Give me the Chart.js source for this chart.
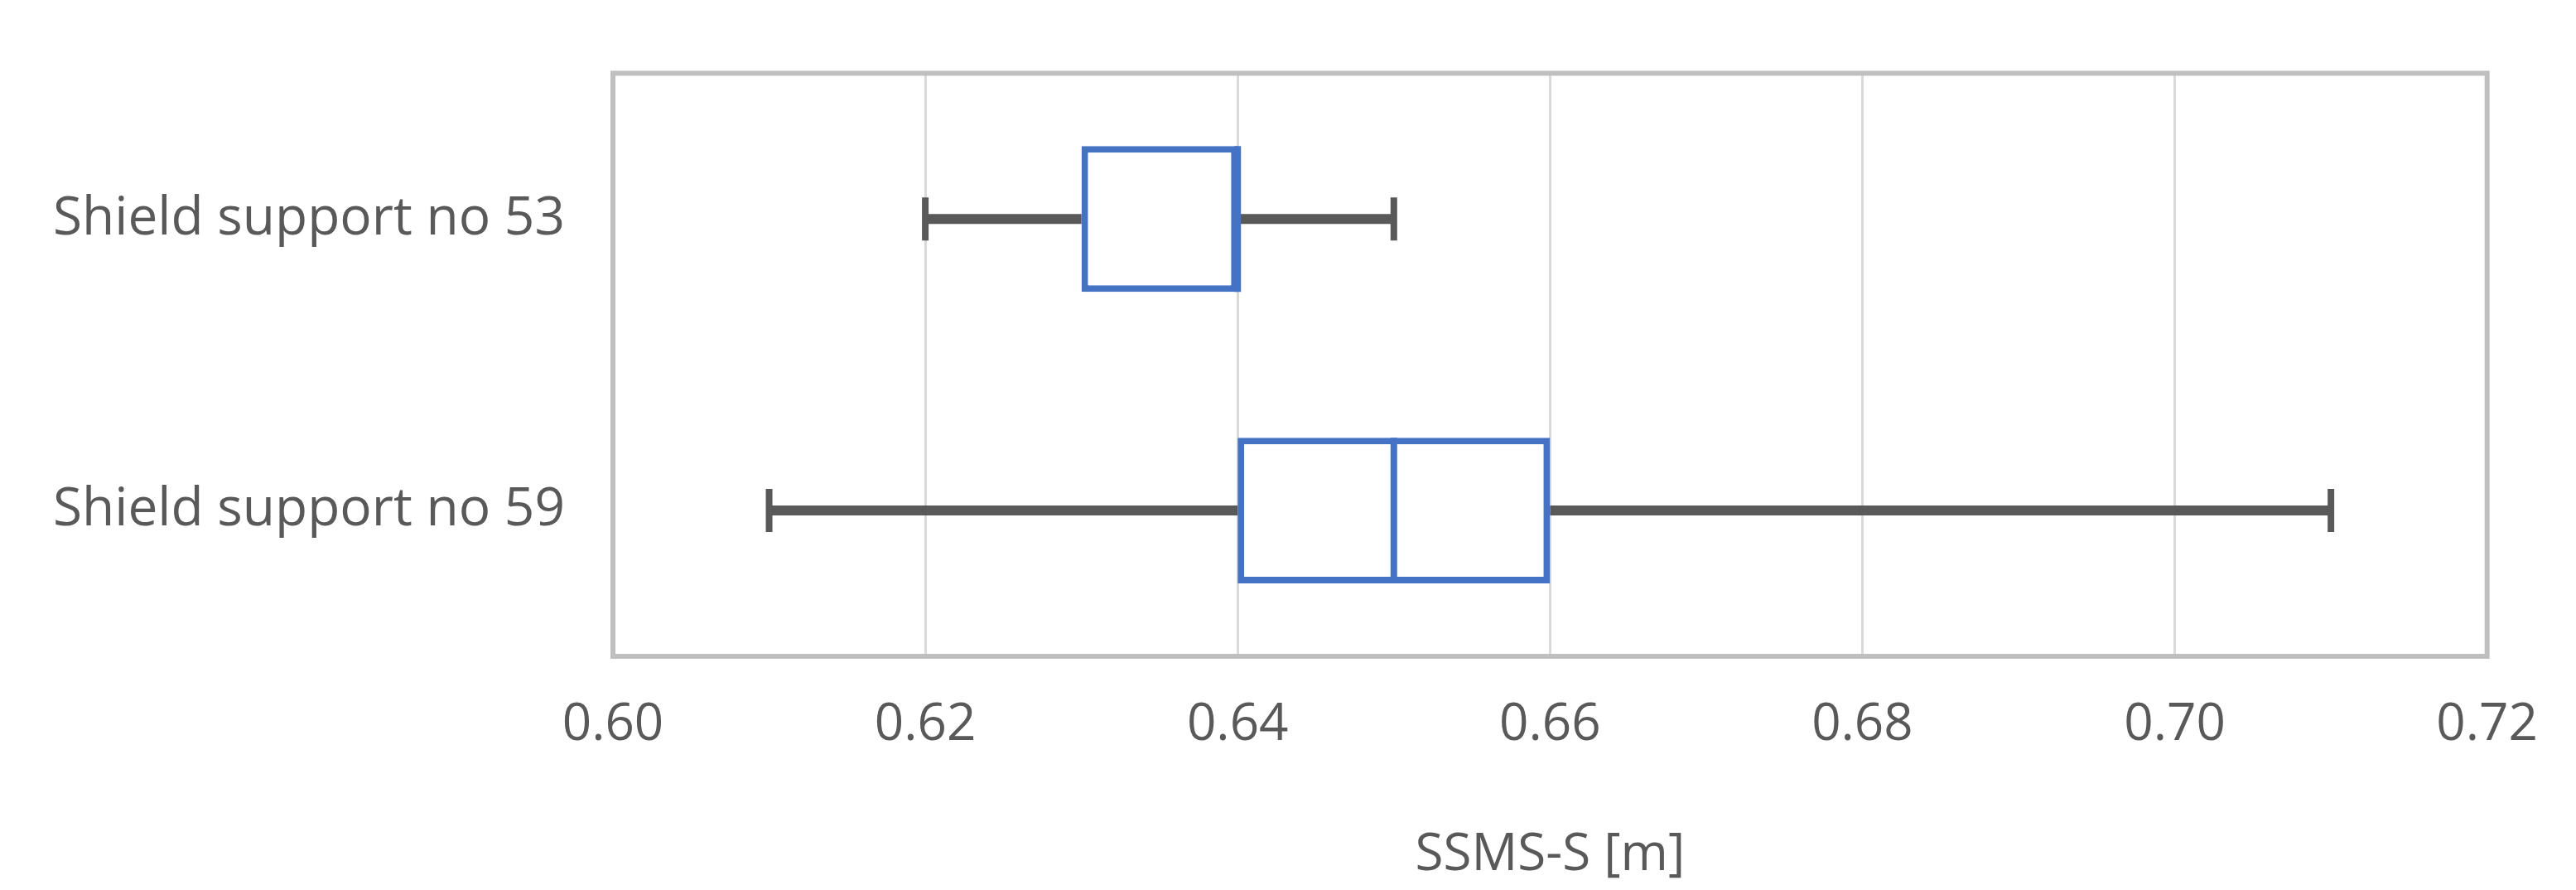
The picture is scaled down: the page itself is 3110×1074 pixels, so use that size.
<!DOCTYPE html><html><head><script src="https://cdn.jsdelivr.net/npm/chart.js@4"></script>
<style>html,body{margin:0;background:#fff}#w{width:3110px;height:1074px}</style></head><body><div id="w"><canvas id="c"></canvas></div>
<script>
const categories=["Shield support no 53","Shield support no 59"];
const mins=[0.62,0.61];
const q1s=[0.63,0.64];
const medians=[0.64,0.65];
const q3s=[0.64,0.66];
const maxs=[0.65,0.71];
const xTicks=[0.60,0.62,0.64,0.66,0.68,0.70,0.72];
const whisk={id:'whisk',afterDatasetsDraw(ch){const c=ch.ctx,x=ch.scales.x,y=ch.scales.y;c.save();
categories.forEach((_,i)=>{const yc=y.getPixelForValue(i);c.strokeStyle='#595959';c.lineWidth=12;c.lineCap='butt';
c.beginPath();c.moveTo(x.getPixelForValue(mins[i]),yc);c.lineTo(x.getPixelForValue(q1s[i]),yc);
c.moveTo(x.getPixelForValue(q3s[i]),yc);c.lineTo(x.getPixelForValue(maxs[i]),yc);c.stroke();
c.lineWidth=8;c.beginPath();[mins[i],maxs[i]].forEach(v=>{const px=x.getPixelForValue(v);c.moveTo(px,yc-26);c.lineTo(px,yc+26);});c.stroke();
const m=ch.getDatasetMeta(0).data[i];const h=m.height;c.strokeStyle='#4472c4';c.lineWidth=8;c.beginPath();const mp=x.getPixelForValue(medians[i]);c.moveTo(mp,yc-h/2);c.lineTo(mp,yc+h/2);c.stroke();});
c.strokeStyle='#bfbfbf';c.lineWidth=6;const a=ch.chartArea;c.strokeRect(a.left,a.top,a.right-a.left,a.bottom-a.top);c.restore();}};
new Chart(document.getElementById('c'),{type:'bar',plugins:[whisk],
data:{labels:categories,datasets:[{data:categories.map((_,i)=>[q1s[i],q3s[i]]),backgroundColor:'#fff',borderColor:'#4472c4',borderWidth:8,borderSkipped:false,barPercentage:0.5,categoryPercentage:1}]},
options:{indexAxis:'y',responsive:true,maintainAspectRatio:false,animation:false,devicePixelRatio:1,
layout:{padding:{top:69,right:90,left:0,bottom:0}},
plugins:{legend:{display:false},tooltip:{enabled:false}},
scales:{x:{min:0.60,max:0.72,afterBuildTicks(s){s.ticks=xTicks.map(v=>({value:v}));},
grid:{color:'#d9d9d9',lineWidth:3,drawTicks:false},border:{display:false},
ticks:{padding:46,color:'#595959',font:{family:'Open Sans',size:62},callback:v=>Number(v).toFixed(2)},
title:{display:true,text:'SSMS-S [m]',color:'#595959',font:{family:'Open Sans',size:62},padding:{top:30}},
afterFit(s){s.height=282;}},
y:{grid:{display:false},border:{display:false},ticks:{padding:50,color:'#595959',font:{family:'Open Sans',size:64}},afterFit(s){s.width=740;}}}}});
</script></body></html>
